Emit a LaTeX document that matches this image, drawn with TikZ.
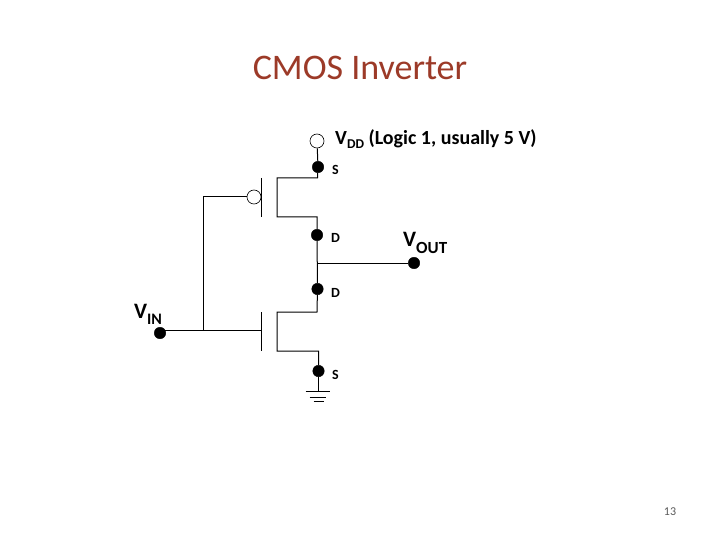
\documentclass[tikz,border=0pt]{standalone}
\usepackage{xcolor}
\usepackage{fontspec}
\setmainfont{Carlito}
\usetikzlibrary{positioning, calc}
\definecolor{titlered}{HTML}{9C3A28}
\definecolor{pagegray}{HTML}{595959}
\tikzset{
  wire/.style={black, line width=1pt},
  termdot/.style={circle, fill=black, draw=black, inner sep=0pt, minimum size=11.5pt},
  opendot/.style={circle, fill=white, draw=black, line width=0.6pt, inner sep=0pt, minimum size=14pt},
  bigname/.style={inner sep=0pt, anchor=base west, font=\bfseries\fontsize{22}{22}\selectfont},
  pinname/.style={inner sep=0pt, anchor=base west, font=\bfseries\fontsize{14}{14}\selectfont},
}
\begin{document}
\begin{tikzpicture}[x=1pt, y=-1pt]
    \useasboundingbox (0,0) rectangle (720,540);
    \node[inner sep=0pt, text=titlered, font=\fontsize{36}{36}\selectfont] (title) at (360,67.5) {CMOS Inverter};
    % Terminals
    \node[opendot] (vdd) at (317,141) {};
    \node[termdot] (ps) at (318,167) {};
    \node[termdot] (pd) at (317,235) {};
    \node[termdot] (nd) at (317.5,289) {};
    \node[termdot] (ns) at (318.5,371) {};
    \node[termdot] (vout) at (414,263) {};
    \node[termdot] (vin) at (160,333) {};
    \node[opendot] (bubble) at (254,197) {};
    % Corners of the two transistors
    \coordinate (ptopr) at (317.5,178);
    \coordinate (ptopl) at (277,178);
    \coordinate (pbotl) at (277,217);
    \coordinate (pbotr) at (317,217);
    \coordinate (ntopr) at (317,312);
    \coordinate (ntopl) at (277,312);
    \coordinate (nbotl) at (277,351);
    \coordinate (nbotr) at (318.5,351);
    \coordinate (pgatetop) at (261,178);
    \coordinate (pgatebot) at (261,217);
    \coordinate (ngatetop) at (261,312);
    \coordinate (ngatebot) at (261,351);
    \coordinate (ngatemid) at (261,330.5);
    \coordinate (vintap) at (160,330.5);
    \coordinate (gatetop) at (203,197);
    \coordinate (gatejoin) at (203,330.5);
    \coordinate (outjoin) at (317,263);
    \coordinate (gnd) at (318.5,391.5);
    % Wires
    \draw[wire] (vdd) -- (ps);
    \draw[wire] (ps) -- (ptopr) -- (ptopl) -- (pbotl) -- (pbotr) -- (pd);
    \draw[wire] (pd) -- (nd);
    \draw[wire] (nd) -- (ntopr) -- (ntopl) -- (nbotl) -- (nbotr) -- (ns);
    \draw[wire] (ns) -- (gnd);
    \draw[wire] (outjoin) -- (vout);
    \draw[wire] (pgatetop) -- (pgatebot);
    \draw[wire] (ngatetop) -- (ngatebot);
    \draw[wire] (bubble) -- (gatetop) -- (gatejoin);
    \draw[wire] (vintap) -- (ngatemid);
    % Ground bars
    \draw[wire] ($(gnd)+(-13,0)$) -- ($(gnd)+(11,0)$);
    \draw[wire] ($(gnd)+(-9,5.5)$) -- ($(gnd)+(7,5.5)$);
    \draw[wire] ($(gnd)+(-5,10)$) -- ($(gnd)+(5,10)$);
    % Labels
    \node[bigname, font=\bfseries\fontsize{20}{20}\selectfont] (vddlabel) at (335,145) {V\raisebox{-4pt}{\fontsize{13.5}{13.5}\selectfont DD} (Logic 1, usually 5 V)};
    \node[bigname] (voutlabel) at (403,247) {V\raisebox{-6pt}{\fontsize{17}{17}\selectfont OUT}};
    \node[bigname] (vinlabel) at (134,318) {V\raisebox{-6pt}{\fontsize{16}{16}\selectfont IN}};
    \node[pinname] (pslabel) at (332,175) {S};
    \node[pinname] (pdlabel) at (331,243) {D};
    \node[pinname] (ndlabel) at (331,297) {D};
    \node[pinname] (nslabel) at (332,379) {S};
    \node[inner sep=0pt, text=pagegray, font=\fontsize{12}{12}\selectfont] (pagenum) at (670,512) {13};
\end{tikzpicture}
\end{document}
